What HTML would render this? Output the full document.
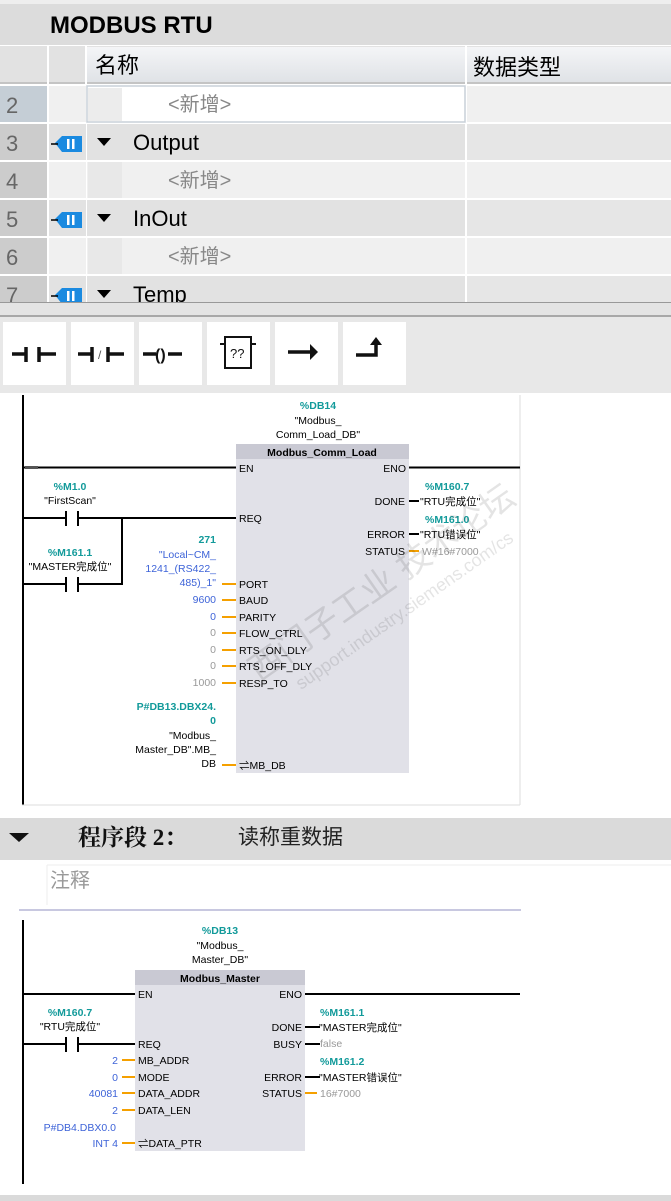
<!DOCTYPE html>
<html><head><meta charset="utf-8"><style>
html,body{margin:0;padding:0;background:#fff;width:671px;height:1201px;overflow:hidden}
svg{display:block}
.t{font-family:"Liberation Sans","Noto Sans CJK SC",sans-serif}
.l{font-family:"Liberation Sans","Noto Sans CJK SC",sans-serif;font-size:10.5px;fill:#000}
.tl{font-family:"Liberation Sans","Noto Sans CJK SC",sans-serif;font-size:10.5px;fill:#129a9a;font-weight:bold}
.bl{font-family:"Liberation Sans","Noto Sans CJK SC",sans-serif;font-size:10.5px;fill:#3d63d8}
.gr{font-family:"Liberation Sans","Noto Sans CJK SC",sans-serif;font-size:10.5px;fill:#999}
</style></head><body>
<svg width="671" height="1201" viewBox="0 0 671 1201" xmlns="http://www.w3.org/2000/svg">
<defs>
<linearGradient id="hg" x1="0" y1="0" x2="0" y2="1"><stop offset="0" stop-color="#f4f5f7"/><stop offset="1" stop-color="#dfe2e6"/></linearGradient>
</defs>
<!-- top table -->
<rect x="0" y="0" width="671" height="4" fill="#eeeeee"/>
<rect x="0" y="4" width="671" height="41" fill="#dcdcdc"/>
<text x="50" y="33" class="t" font-size="24" font-weight="bold" fill="#000">MODBUS RTU</text>
<rect x="0" y="46" width="671" height="38" fill="#e2e2e2"/>
<rect x="87" y="47" width="378" height="36" fill="url(#hg)"/>
<rect x="467" y="47" width="204" height="36" fill="url(#hg)"/>
<rect x="0" y="82" width="671" height="2" fill="#c4c4c4"/>
<line x1="48" y1="46" x2="48" y2="84" stroke="#fff" stroke-width="2"/>
<line x1="86" y1="46" x2="86" y2="84" stroke="#fff" stroke-width="2"/>
<line x1="466" y1="46" x2="466" y2="84" stroke="#fff" stroke-width="2"/>
<text x="95" y="73" class="t" font-size="22" fill="#000">名称</text>
<text x="473" y="75" class="t" font-size="22" fill="#000">数据类型</text>
<!-- rows -->
<g>
<rect x="0" y="86" width="47" height="36" fill="#c5ced6"/>
<rect x="49" y="86" width="37" height="36" fill="#f0f0f0"/>
<rect x="87" y="86" width="378" height="36" fill="#fff" stroke="#c8d0d8" stroke-width="1.5"/>
<rect x="88" y="88" width="34" height="33" fill="#ececec"/>
<rect x="467" y="86" width="204" height="36" fill="#f0f0f0"/>
<text x="6" y="113" class="t" font-size="22" fill="#666">2</text>
<text x="168" y="111" class="t" font-size="20" fill="#888">&lt;新增&gt;</text>

<rect x="0" y="124" width="47" height="36" fill="#cccccc"/>
<rect x="49" y="124" width="37" height="36" fill="#e2e2e2"/>
<rect x="87" y="124" width="378" height="36" fill="#e2e2e2"/>
<rect x="467" y="124" width="204" height="36" fill="#e6e6e6"/>
<text x="6" y="151" class="t" font-size="22" fill="#666">3</text>
<text x="133" y="150" class="t" font-size="22" fill="#000">Output</text>

<rect x="0" y="162" width="47" height="36" fill="#cccccc"/>
<rect x="49" y="162" width="37" height="36" fill="#f0f0f0"/>
<rect x="87" y="162" width="378" height="36" fill="#f0f0f0"/>
<rect x="88" y="162" width="34" height="36" fill="#e8e8e8"/>
<rect x="467" y="162" width="204" height="36" fill="#f0f0f0"/>
<text x="6" y="189" class="t" font-size="22" fill="#666">4</text>
<text x="168" y="187" class="t" font-size="20" fill="#888">&lt;新增&gt;</text>

<rect x="0" y="200" width="47" height="36" fill="#cccccc"/>
<rect x="49" y="200" width="37" height="36" fill="#e2e2e2"/>
<rect x="87" y="200" width="378" height="36" fill="#e2e2e2"/>
<rect x="467" y="200" width="204" height="36" fill="#e6e6e6"/>
<text x="6" y="227" class="t" font-size="22" fill="#666">5</text>
<text x="133" y="226" class="t" font-size="22" fill="#000">InOut</text>

<rect x="0" y="238" width="47" height="36" fill="#cccccc"/>
<rect x="49" y="238" width="37" height="36" fill="#f0f0f0"/>
<rect x="87" y="238" width="378" height="36" fill="#f0f0f0"/>
<rect x="88" y="238" width="34" height="36" fill="#e8e8e8"/>
<rect x="467" y="238" width="204" height="36" fill="#f0f0f0"/>
<text x="6" y="265" class="t" font-size="22" fill="#666">6</text>
<text x="168" y="263" class="t" font-size="20" fill="#888">&lt;新增&gt;</text>

<rect x="0" y="276" width="47" height="26" fill="#cccccc"/>
<rect x="49" y="276" width="37" height="26" fill="#e2e2e2"/>
<rect x="87" y="276" width="378" height="26" fill="#e2e2e2"/>
<rect x="467" y="276" width="204" height="26" fill="#e6e6e6"/>
<text x="6" y="303" class="t" font-size="22" fill="#666">7</text>
<text x="133" y="302" class="t" font-size="22" fill="#000">Temp</text>
</g>
<!-- row icons -->
<g id="ic">
<path d="M55 143 L62 136 L82 136 L82 152 L62 152 Z" fill="#1a8ae0"/>
<line x1="51" y1="144" x2="58" y2="144" stroke="#000" stroke-width="1.5"/>
<rect x="67" y="139" width="2.5" height="10" fill="#fff"/><rect x="72" y="139" width="2.5" height="10" fill="#fff"/>
<path d="M97 138 h14 l-7 8 z" fill="#000"/>
</g>
<use href="#ic" y="76"/>
<use href="#ic" y="152"/>
<!-- separators -->
<rect x="0" y="302" width="671" height="1" fill="#999"/>
<rect x="0" y="303" width="671" height="12" fill="#e4e4e4"/>
<rect x="0" y="315" width="671" height="2" fill="#a8a8a8"/>
<rect x="0" y="317" width="671" height="76" fill="#e8e8e8"/>
<rect x="3" y="322" width="63" height="63" fill="#fff"/>
<rect x="71" y="322" width="63" height="63" fill="#fff"/>
<rect x="139" y="322" width="63" height="63" fill="#fff"/>
<rect x="207" y="322" width="63" height="63" fill="#fff"/>
<rect x="275" y="322" width="63" height="63" fill="#fff"/>
<rect x="343" y="322" width="63" height="63" fill="#fff"/>
<g stroke="#111" stroke-width="3.5" fill="none">
<path d="M12 354 h14 M26 347 v15 M39 347 v15 M39 354 h17"/>
<path d="M78 354 h14 M92 347 v15 M108 347 v15 M108 354 h16"/>
<path d="M143 354 h13 M168 354 h14"/>
<path d="M288 352 h22"/>
<path d="M356 355 h20 v-12"/>
</g>
<path d="M310 344 l8 8 l-8 8 z" fill="#111"/>
<text x="98" y="359" class="t" font-size="12" fill="#555">/</text>
<text x="155" y="360" class="t" font-size="16" fill="#111" font-weight="bold">()</text>
<rect x="225" y="337" width="26" height="31" fill="none" stroke="#111" stroke-width="2"/>
<path d="M220 344 h5 M251 344 h5" stroke="#111" stroke-width="2"/>
<text x="230" y="358" class="t" font-size="13" fill="#111">??</text>
<path d="M370 345 l6 -8 l6 8 z" fill="#111"/>
<rect x="0" y="393" width="671" height="2" fill="#fff"/>

<!-- Network 1 -->
<rect x="22" y="395" width="2" height="410" fill="#000"/>
<line x1="520" y1="395" x2="520" y2="805" stroke="#ddd" stroke-width="1"/>
<line x1="22" y1="805" x2="520" y2="805" stroke="#ddd" stroke-width="1"/>
<text x="318" y="409" class="tl" text-anchor="middle">%DB14</text>
<text x="318" y="424" class="l" text-anchor="middle">"Modbus_</text>
<text x="318" y="438" class="l" text-anchor="middle">Comm_Load_DB"</text>
<rect x="236" y="444" width="173" height="329" fill="#e1e1e8"/>
<rect x="236" y="444" width="173" height="15" fill="#c9c9d3"/>
<text x="322" y="456" class="l" text-anchor="middle" font-weight="bold">Modbus_Comm_Load</text>
<line x1="24" y1="467.5" x2="236" y2="467.5" stroke="#000" stroke-width="2"/>
<rect x="25" y="466" width="13" height="3" fill="#555"/>
<line x1="409" y1="467.5" x2="520" y2="467.5" stroke="#000" stroke-width="2"/>
<text x="239" y="472" class="l">EN</text>
<text x="406" y="472" class="l" text-anchor="end">ENO</text>
<text x="70" y="490" class="tl" text-anchor="middle">%M1.0</text>
<text x="70" y="504" class="l" text-anchor="middle">"FirstScan"</text>
<g stroke="#000" stroke-width="2" fill="none">
<path d="M24 518 h42 M66 511 v15 M78 511 v15 M78 518 h158"/>
<path d="M24 584 h42 M66 577 v15 M78 577 v15 M78 584 h44 V518"/>
</g>
<text x="70" y="556" class="tl" text-anchor="middle">%M161.1</text>
<text x="70" y="570" class="l" text-anchor="middle">"MASTER完成位"</text>
<text x="239" y="522" class="l">REQ</text>
<text x="216" y="543" class="tl" text-anchor="end">271</text>
<text x="216" y="558" class="bl" text-anchor="end">"Local~CM_</text>
<text x="216" y="572" class="bl" text-anchor="end">1241_(RS422_</text>
<text x="216" y="586" class="bl" text-anchor="end">485)_1"</text>
<g stroke="#f5a000" stroke-width="2">
<path d="M222 584 h14 M222 600 h14 M222 617 h14 M222 633 h14 M222 650 h14 M222 666 h14 M222 683 h14 M222 765 h14"/>
<path d="M409 551 h10"/>
</g>
<text x="239" y="588" class="l">PORT</text>
<text x="216" y="603" class="bl" text-anchor="end">9600</text><text x="239" y="604" class="l">BAUD</text>
<text x="216" y="620" class="bl" text-anchor="end">0</text><text x="239" y="621" class="l">PARITY</text>
<text x="216" y="636" class="gr" text-anchor="end">0</text><text x="239" y="637" class="l">FLOW_CTRL</text>
<text x="216" y="653" class="gr" text-anchor="end">0</text><text x="239" y="654" class="l">RTS_ON_DLY</text>
<text x="216" y="669" class="gr" text-anchor="end">0</text><text x="239" y="670" class="l">RTS_OFF_DLY</text>
<text x="216" y="686" class="gr" text-anchor="end">1000</text><text x="239" y="687" class="l">RESP_TO</text>
<text x="216" y="710" class="tl" text-anchor="end">P#DB13.DBX24.</text>
<text x="216" y="724" class="tl" text-anchor="end">0</text>
<text x="216" y="739" class="l" text-anchor="end">"Modbus_</text>
<text x="216" y="753" class="l" text-anchor="end">Master_DB".MB_</text>
<text x="216" y="767" class="l" text-anchor="end">DB</text>
<text x="239" y="769" class="l">⇌MB_DB</text>
<text x="405" y="505" class="l" text-anchor="end">DONE</text>
<text x="405" y="538" class="l" text-anchor="end">ERROR</text>
<text x="405" y="555" class="l" text-anchor="end">STATUS</text>
<path d="M409 501 h10 M409 534 h10" stroke="#000" stroke-width="2"/>
<text x="425" y="490" class="tl">%M160.7</text>
<text x="420" y="505" class="l">"RTU完成位"</text>
<text x="425" y="523" class="tl">%M161.0</text>
<text x="420" y="538" class="l">"RTU错误位"</text>
<text x="422" y="555" class="gr">W#16#7000</text>
<g opacity="0.1" transform="rotate(-35 360 600)"><text x="230" y="610" class="t" font-size="34" fill="#000">西门子工业 技术论坛</text><text x="260" y="640" class="t" font-size="18" fill="#000">support.industry.siemens.com/cs</text></g>

<!-- Network 2 header -->
<rect x="0" y="818" width="671" height="42" fill="#dadada"/>
<path d="M9 833 h20 l-10 9 z" fill="#111"/>
<text x="78" y="845" font-size="23" font-weight="bold" fill="#111" font-family="Liberation Serif,Noto Serif CJK SC,serif">程序段 2：</text>
<text x="238" y="844" class="t" font-size="21" fill="#222">读称重数据</text>
<rect x="47" y="865" width="624" height="40" fill="#fff"/>
<line x1="47" y1="865" x2="47" y2="905" stroke="#eee"/>
<line x1="47" y1="865" x2="671" y2="865" stroke="#eee"/>
<text x="50" y="887" class="t" font-size="20" fill="#999">注释</text>
<rect x="19" y="909" width="502" height="2" fill="#c8c8e0"/>

<!-- Network 2 -->
<rect x="22" y="920" width="2" height="264" fill="#000"/>
<text x="220" y="934" class="tl" text-anchor="middle">%DB13</text>
<text x="220" y="949" class="l" text-anchor="middle">"Modbus_</text>
<text x="220" y="963" class="l" text-anchor="middle">Master_DB"</text>
<rect x="135" y="970" width="170" height="181" fill="#e1e1e8"/>
<rect x="135" y="970" width="170" height="15" fill="#c9c9d3"/>
<text x="220" y="982" class="l" text-anchor="middle" font-weight="bold">Modbus_Master</text>
<line x1="24" y1="994" x2="135" y2="994" stroke="#000" stroke-width="2"/>
<line x1="305" y1="994" x2="520" y2="994" stroke="#000" stroke-width="2"/>
<text x="138" y="998" class="l">EN</text>
<text x="302" y="998" class="l" text-anchor="end">ENO</text>
<text x="70" y="1016" class="tl" text-anchor="middle">%M160.7</text>
<text x="70" y="1030" class="l" text-anchor="middle">"RTU完成位"</text>
<path d="M24 1044 h42 M66 1037 v15 M78 1037 v15 M78 1044 h57" stroke="#000" stroke-width="2" fill="none"/>
<text x="138" y="1048" class="l">REQ</text>
<g stroke="#f5a000" stroke-width="2">
<path d="M122 1060 h13 M122 1077 h13 M122 1093 h13 M122 1110 h13 M122 1143 h13 M305 1093 h12"/>
</g>
<text x="118" y="1064" class="bl" text-anchor="end">2</text><text x="138" y="1064" class="l">MB_ADDR</text>
<text x="118" y="1081" class="bl" text-anchor="end">0</text><text x="138" y="1081" class="l">MODE</text>
<text x="118" y="1097" class="bl" text-anchor="end">40081</text><text x="138" y="1097" class="l">DATA_ADDR</text>
<text x="118" y="1114" class="bl" text-anchor="end">2</text><text x="138" y="1114" class="l">DATA_LEN</text>
<text x="116" y="1131" class="bl" text-anchor="end">P#DB4.DBX0.0</text>
<text x="118" y="1147" class="bl" text-anchor="end">INT 4</text><text x="138" y="1147" class="l">⇌DATA_PTR</text>
<text x="302" y="1031" class="l" text-anchor="end">DONE</text>
<text x="302" y="1048" class="l" text-anchor="end">BUSY</text>
<text x="302" y="1081" class="l" text-anchor="end">ERROR</text>
<text x="302" y="1097" class="l" text-anchor="end">STATUS</text>
<path d="M305 1027 h15 M305 1044 h15 M305 1077 h15" stroke="#000" stroke-width="2"/>
<text x="320" y="1016" class="tl">%M161.1</text>
<text x="319" y="1031" class="l">"MASTER完成位"</text>
<text x="320" y="1047" class="gr">false</text>
<text x="320" y="1065" class="tl">%M161.2</text>
<text x="319" y="1081" class="l">"MASTER错误位"</text>
<text x="320" y="1097" class="gr">16#7000</text>
<rect x="0" y="1195" width="671" height="6" fill="#dadada"/>
</svg>
</body></html>
